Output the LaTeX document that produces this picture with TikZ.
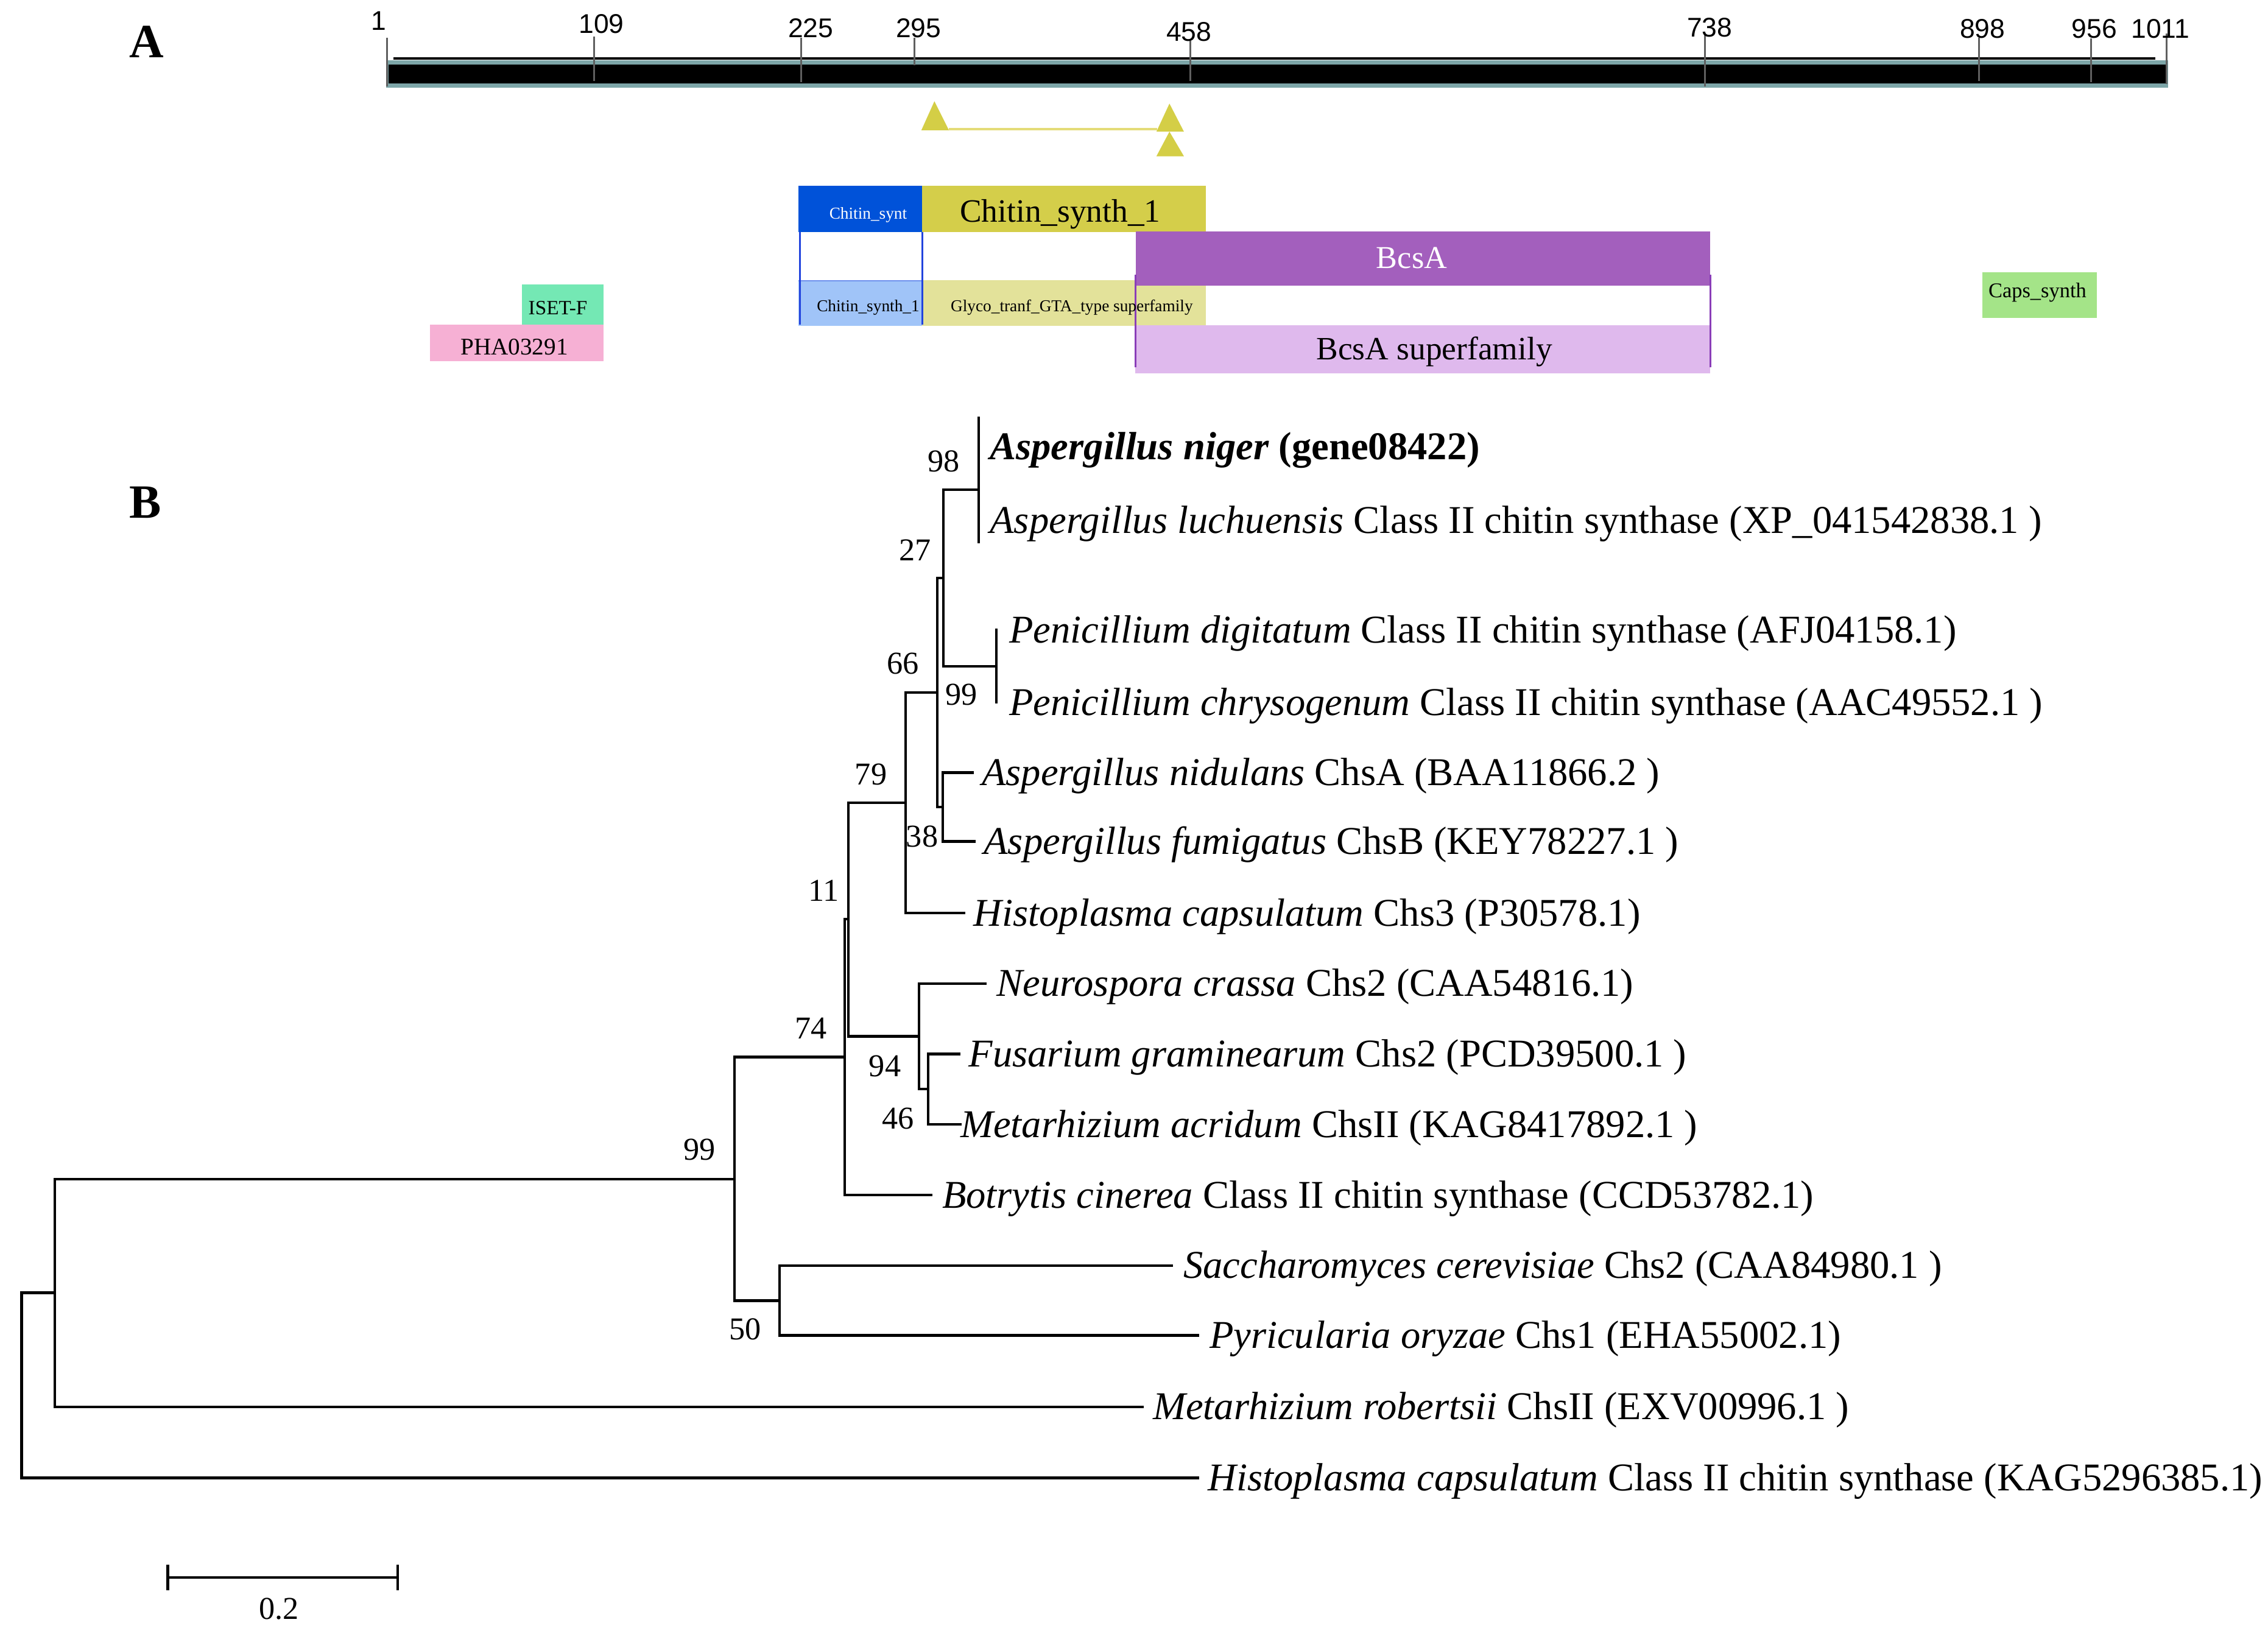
\documentclass[tikz,border=0pt]{standalone}
\usepackage{fontspec}
\setmainfont{Liberation Serif}
\newfontfamily\arialf{Liberation Sans}
\definecolor{teal1}{RGB}{125,166,168}
\definecolor{tickgray}{RGB}{95,95,95}
\definecolor{triy}{RGB}{212,206,70}
\definecolor{liney}{RGB}{228,220,120}
\definecolor{cblue}{RGB}{0,82,217}
\definecolor{cyel}{RGB}{212,206,74}
\definecolor{cltblue}{RGB}{160,196,248}
\definecolor{cglyco}{RGB}{227,226,154}
\definecolor{cbcsa}{RGB}{163,95,189}
\definecolor{cbcsasf}{RGB}{223,185,237}
\definecolor{cpurpline}{RGB}{138,61,184}
\definecolor{cblueline}{RGB}{34,68,221}
\definecolor{ciset}{RGB}{116,232,180}
\definecolor{cpha}{RGB}{246,176,212}
\definecolor{ccaps}{RGB}{164,228,136}
\begin{document}
\begin{tikzpicture}[x=1pt,y=-1pt,
  branch/.style={line width=1.8pt, line cap=rect, line join=miter},
  leaf/.style={anchor=base west, inner sep=0pt, yshift=-8.9pt, font=\fontsize{27.2}{30}\selectfont},
  boot/.style={inner sep=0pt, font=\fontsize{22}{24}\selectfont},
  tickline/.style={draw=tickgray, line width=1.3pt},
  rulerlab/.style={inner sep=0pt, font=\arialf\fontsize{18.7}{20}\selectfont},
  domtext/.style={anchor=base, inner sep=0pt},
  panel/.style={inner sep=0pt, font=\fontsize{33}{36}\selectfont\bfseries}]
\useasboundingbox (0,0) rectangle (1568,1133);
\fill[white] (0,0) rectangle (1568,1133);

% panel letters
\node[panel] (pA) at (101.5,29) {A};
\node[panel] (pB) at (100.5,347.5) {B};

% ===== Panel A: ruler =====
\fill[teal1] (267,41.5) rectangle (1499,60.8);
\fill[black] (268.5,44.6) rectangle (1497.5,57.6);
\draw[black, line width=1.5pt] (272,40.3) -- (1490,40.3);

\foreach \x/\ya/\yb in {267.5/26/59.7, 410.6/25.3/56, 554/26/56.8, 632.3/26/44.9, 823/28/56, 1178.6/24.6/59.6, 1368/26/56, 1445.5/26.7/56.8, 1498/23.2/58.2}
  \draw[tickline] (\x,\ya) -- (\x,\yb);

\node[rulerlab] (r1) at (262,14.2) {1};
\node[rulerlab] (r109) at (415.8,16.4) {109};
\node[rulerlab] (r225) at (560.5,19.3) {225};
\node[rulerlab] (r295) at (635,19.3) {295};
\node[rulerlab] (r458) at (822,22) {458};
\node[rulerlab] (r738) at (1182,19.2) {738};
\node[rulerlab] (r898) at (1370.6,19.8) {898};
\node[rulerlab] (r956) at (1448,19.8) {956};
\node[rulerlab] (r1011) at (1493.6,19.8) {1011};

% triangles
\draw[liney, line width=1.6pt] (656,89.3) -- (800,89.3);
\fill[triy] (646,70) -- (656,90) -- (637,90) -- cycle;
\fill[triy] (808.5,71.6) -- (818.5,91) -- (799.5,91) -- cycle;
\fill[triy] (808.5,91) -- (818.5,108) -- (799.5,108) -- cycle;

% ===== domains =====
\fill[cltblue] (552,193.7) rectangle (637.5,225.3);
\draw[cblueline!40!cltblue, line width=1pt] (552,194.2) -- (637.5,194.2);
\fill[cglyco] (637.5,193.7) rectangle (833.7,225.3);
\fill[cblue] (551.9,128.4) rectangle (637.5,160.3);
\fill[cyel] (637.5,128.4) rectangle (833.7,160.3);
\draw[cblueline, line width=1.2pt] (553,160.3) -- (553,224.5);
\draw[cblueline, line width=1.2pt] (637.5,160.3) -- (637.5,224.5);
\fill[cbcsasf] (785,224.8) rectangle (1182.5,258);
\fill[cbcsa] (785.3,160) rectangle (1182.5,197.5);
\draw[cpurpline, line width=1.2pt] (785,190) -- (785,254);
\draw[cpurpline, line width=1.2pt] (1182.5,190) -- (1182.5,254);
\fill[ciset] (360.8,196.5) rectangle (417.3,224.3);
\fill[cpha] (297.4,224.5) rectangle (417.3,249.7);
\fill[ccaps] (1370.5,188) rectangle (1449.7,219.7);

\node[domtext, text=white, font=\fontsize{11.5}{13}\selectfont] (dcs) at (600.2,151.2) {Chitin\_synt};
\node[domtext, font=\fontsize{22.5}{25}\selectfont] (dcs1) at (733,153.3) {Chitin\_synth\_1};
\node[domtext, font=\fontsize{11.5}{13}\selectfont] (dcs1s) at (600.2,215.3) {Chitin\_synth\_1};
\node[domtext, font=\fontsize{11.5}{13}\selectfont] (dgly) at (741,215.3) {Glyco\_tranf\_GTA\_type superfamily};
\node[domtext, text=white, font=\fontsize{22}{25}\selectfont] (dbcsa) at (976,185.6) {BcsA};
\node[domtext, font=\fontsize{22.5}{25}\selectfont] (dbcsasf) at (991.6,248.5) {BcsA superfamily};
\node[domtext, font=\fontsize{14}{16}\selectfont] (diset) at (385.7,217.5) {ISET-F};
\node[domtext, font=\fontsize{16.5}{18}\selectfont] (dpha) at (355.6,245.1) {PHA03291};
\node[domtext, font=\fontsize{14.5}{16}\selectfont] (dcaps) at (1408.6,205.5) {Caps\_synth};

% ===== Panel B: tree =====
\coordinate (root) at (15,957.7);
\coordinate (r1n) at (38,893.7);
\coordinate (n99) at (507.8,815);
\coordinate (n50) at (539,899.1);
\coordinate (n74) at (583.9,730.7);
\coordinate (n11) at (586.5,635.4);
\coordinate (n94) at (635.5,716.4);
\coordinate (n46) at (641.7,752.95);
\coordinate (n79) at (626,555);
\coordinate (n66) at (647.9,478.8);
\coordinate (n38) at (651.9,557.9);
\coordinate (n27) at (652.3,399.7);
\coordinate (n99p) at (688.8,460.5);
\coordinate (n98) at (676.5,338.5);
% leaf ends
\coordinate (lNig) at (676.5,289.1);
\coordinate (lLuc) at (676.5,374.7);
\coordinate (lDig) at (688.8,435.4);
\coordinate (lChr) at (688.8,485.6);
\coordinate (lNid) at (672.3,534.1);
\coordinate (lFum) at (673.7,581.7);
\coordinate (lHis) at (666.4,631.2);
\coordinate (lNeu) at (681.4,679.9);
\coordinate (lFus) at (663.2,728.6);
\coordinate (lMac) at (663.9,777.3);
\coordinate (lBot) at (643.9,826.1);
\coordinate (lSac) at (810,874.8);
\coordinate (lPyr) at (828,923.1);
\coordinate (lMro) at (790,972.5);
\coordinate (lKAG) at (828,1021.7);

\draw[branch] (root) |- (r1n);
\draw[branch] (root) |- (lKAG);
\draw[branch] (r1n) |- (n99);
\draw[branch] (r1n) |- (lMro);
\draw[branch] (n99) |- (n74);
\draw[branch] (n99) |- (n50);
\draw[branch] (n50) |- (lSac);
\draw[branch] (n50) |- (lPyr);
\draw[branch] (n74) |- (n11);
\draw[branch] (n74) |- (lBot);
\draw[branch] (n11) |- (n79);
\draw[branch] (n11) |- (n94);
\draw[branch] (n94) |- (lNeu);
\draw[branch] (n94) |- (n46);
\draw[branch] (n46) |- (lFus);
\draw[branch] (n46) |- (lMac);
\draw[branch] (n79) |- (n66);
\draw[branch] (n79) |- (lHis);
\draw[branch] (n66) |- (n27);
\draw[branch] (n66) |- (n38);
\draw[branch] (n38) |- (lNid);
\draw[branch] (n38) |- (lFum);
\draw[branch] (n27) |- (n98);
\draw[branch] (n27) |- (n99p);
\draw[branch] (n99p) |- (lDig);
\draw[branch] (n99p) |- (lChr);
\draw[branch] (n98) |- (lNig);
\draw[branch] (n98) |- (lLuc);

% bootstrap values
\node[boot] (b98) at (652.5,318.9) {98};
\node[boot] (b27) at (632.8,380.4) {27};
\node[boot] (b66) at (624.1,458.9) {66};
\node[boot] (b99p) at (664.8,480.3) {99};
\node[boot] (b79) at (602.1,535.2) {79};
\node[boot] (b38) at (637.5,578.2) {38};
\node[boot] (b11) at (569.4,615.7) {11};
\node[boot] (b74) at (560.7,710.9) {74};
\node[boot] (b94) at (611.8,737) {94};
\node[boot] (b46) at (621,773.4) {46};
\node[boot] (b99) at (483.5,794.5) {99};
\node[boot] (b50) at (515,919) {50};

% leaf labels
\node[leaf] (t1) at (684.2,308.7) {\textbf{\textit{Aspergillus niger} (gene08422)}};
\node[leaf] (t2) at (684.2,359.7) {\textit{Aspergillus luchuensis} Class II chitin synthase (XP\_041542838.1 )};
\node[leaf] (t3) at (697.5,435.4) {\textit{Penicillium digitatum} Class II chitin synthase (AFJ04158.1)};
\node[leaf] (t4) at (697.5,485.6) {\textit{Penicillium chrysogenum} Class II chitin synthase (AAC49552.1 )};
\node[leaf] (t5) at (678.6,534.1) {\textit{Aspergillus nidulans} ChsA (BAA11866.2 )};
\node[leaf] (t6) at (680,581.7) {\textit{Aspergillus fumigatus} ChsB (KEY78227.1 )};
\node[leaf] (t7) at (673,631.2) {\textit{Histoplasma capsulatum} Chs3 (P30578.1)};
\node[leaf] (t8) at (689,679.9) {\textit{Neurospora crassa} Chs2 (CAA54816.1)};
\node[leaf] (t9) at (669.5,728.6) {\textit{Fusarium graminearum} Chs2 (PCD39500.1 )};
\node[leaf] (t10) at (664,777.3) {\textit{Metarhizium acridum} ChsII (KAG8417892.1 )};
\node[leaf] (t11) at (651.2,826.1) {\textit{Botrytis cinerea} Class II chitin synthase (CCD53782.1)};
\node[leaf] (t12) at (818,874.8) {\textit{Saccharomyces cerevisiae} Chs2 (CAA84980.1 )};
\node[leaf] (t13) at (836,923.1) {\textit{Pyricularia oryzae} Chs1 (EHA55002.1)};
\node[leaf] (t14) at (797,972.5) {\textit{Metarhizium robertsii} ChsII (EXV00996.1 )};
\node[leaf] (t15) at (835,1021.7) {\textit{Histoplasma capsulatum} Class II chitin synthase (KAG5296385.1)};

% scale bar
\coordinate (sbL) at (116,1090.5);
\coordinate (sbR) at (275,1090.5);
\draw[branch] (sbL) -- (sbR);
\draw[line width=1.8pt] ([yshift=9pt]sbL) -- ([yshift=-9pt]sbL);
\draw[line width=1.8pt] ([yshift=9pt]sbR) -- ([yshift=-9pt]sbR);
\node[boot] (sblab) at (193,1112) {0.2};
\end{tikzpicture}
\end{document}
